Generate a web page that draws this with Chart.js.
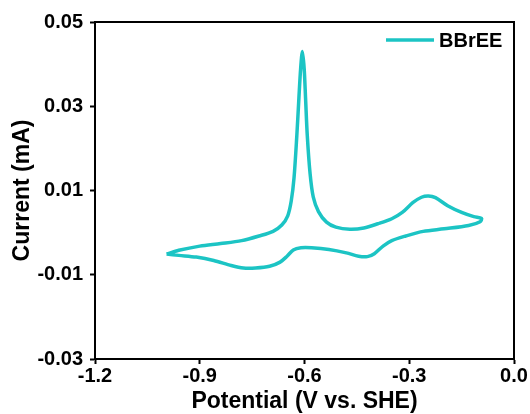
<!DOCTYPE html>
<html>
<head>
<meta charset="utf-8">
<script src="https://cdn.jsdelivr.net/npm/chart.js@4/dist/chart.umd.min.js"></script>
<style>
  html, body { margin: 0; padding: 0; background: #fff; }
  #wrap { width: 530px; height: 414px; }
</style>
</head>
<body>
<div id="wrap"><canvas id="myChart"></canvas></div>
<script>
// CV loop (upper branch left->right, then lower branch back)
var potential = [
  -0.995, -0.96, -0.90, -0.84, -0.78, -0.73, -0.69, -0.665, -0.648, -0.638,
  -0.630, -0.622, -0.616, -0.611, -0.606, -0.601, -0.597, -0.592, -0.584, -0.575,
  -0.560, -0.537, -0.51, -0.47, -0.43, -0.39, -0.35, -0.32, -0.29, -0.265,
  -0.245, -0.225, -0.19, -0.15, -0.115, -0.093,
  -0.097, -0.13, -0.20, -0.26, -0.31, -0.35, -0.375, -0.40, -0.42, -0.445,
  -0.48, -0.53, -0.58, -0.61, -0.632, -0.650, -0.670, -0.70, -0.74, -0.775,
  -0.81, -0.86, -0.91, -0.96, -0.995
];
var current = [
  -0.0051, -0.0042, -0.0032, -0.0026, -0.0019, -0.0008, 0.0003, 0.0018, 0.0040, 0.0075,
  0.0130, 0.0230, 0.0320, 0.0390, 0.0430, 0.0390, 0.0320, 0.0230, 0.0140, 0.0085,
  0.0050, 0.0025, 0.0013, 0.0008, 0.0011, 0.0021, 0.0033, 0.0048, 0.0071, 0.0084,
  0.0087, 0.0083, 0.0064, 0.0048, 0.0038, 0.0034,
  0.0026, 0.0017, 0.0009, 0.0003, -0.0008, -0.0019, -0.0032, -0.0050, -0.0057, -0.0056,
  -0.0048, -0.0040, -0.0036, -0.0036, -0.0041, -0.0056, -0.0070, -0.0080, -0.0084, -0.0084,
  -0.0078, -0.0066, -0.0058, -0.0054, -0.0051
];
var seriesLabel = 'BBrEE';
var xTicks = [-1.2, -0.9, -0.6, -0.3, 0.0];
var yTicks = [-0.03, -0.01, 0.01, 0.03, 0.05];

var lineColor = '#1cc4c4';
var font = 'Liberation Sans, Arial, sans-serif';

var points = potential.map(function(x, i) { return { x: x, y: current[i] }; });

// frame on all four sides + legend inside top-right
var framePlugin = {
  id: 'frame',
  afterDraw: function(chart) {
    var ctx = chart.ctx;
    var a = chart.chartArea;
    ctx.save();
    ctx.strokeStyle = '#000';
    ctx.lineWidth = 2;
    ctx.strokeRect(a.left, a.top, a.right - a.left, a.bottom - a.top);

    var ds = chart.data.datasets[0];
    ctx.strokeStyle = ds.borderColor;
    ctx.lineWidth = 3.5;
    ctx.beginPath();
    ctx.moveTo(386, 40);
    ctx.lineTo(434, 40);
    ctx.stroke();
    ctx.fillStyle = '#000';
    ctx.font = 'bold 20px ' + font;
    ctx.textBaseline = 'middle';
    ctx.fillText(ds.label, 439, 41);
    ctx.restore();
  }
};

var ctx = document.getElementById('myChart').getContext('2d');
var chart = new Chart(ctx, {
  type: 'scatter',
  data: {
    datasets: [{
      label: seriesLabel,
      data: points,
      showLine: true,
      borderColor: lineColor,
      borderWidth: 3.5,
      pointRadius: 0,
      tension: 0.3,
      fill: false
    }]
  },
  options: {
    responsive: true,
    maintainAspectRatio: false,
    animation: false,
    layout: { padding: { left: 0, right: 16, top: 22, bottom: 0 } },
    scales: {
      x: {
        type: 'linear',
        min: -1.2,
        max: 0,
        afterBuildTicks: function(scale) {
          scale.ticks = xTicks.map(function(v) { return { value: v }; });
        },
        afterFit: function(scale) { scale.height = 55; },
        grid: {
          drawOnChartArea: false,
          drawTicks: true,
          tickLength: 5,
          tickWidth: 2,
          tickColor: '#000'
        },
        border: { display: true, color: '#000', width: 2 },
        ticks: {
          color: '#000',
          padding: 0,
          maxRotation: 0,
          font: { family: font, size: 20, weight: 'bold' },
          callback: function(v) { return v.toFixed(1); }
        },
        title: {
          display: true,
          text: 'Potential (V vs. SHE)',
          color: '#000',
          padding: { top: 0, bottom: -1 },
          font: { family: font, size: 23, weight: 'bold' }
        }
      },
      y: {
        type: 'linear',
        min: -0.03,
        max: 0.05,
        afterBuildTicks: function(scale) {
          scale.ticks = yTicks.map(function(v) { return { value: v }; });
        },
        afterFit: function(scale) { scale.width = 95; },
        grid: {
          drawOnChartArea: false,
          drawTicks: true,
          tickLength: 5,
          tickWidth: 2,
          tickColor: '#000'
        },
        border: { display: true, color: '#000', width: 2 },
        ticks: {
          color: '#000',
          padding: 7,
          font: { family: font, size: 20, weight: 'bold' },
          callback: function(v) { return v.toFixed(2); }
        },
        title: {
          display: true,
          text: 'Current (mA)',
          color: '#000',
          padding: { top: 9, bottom: 0 },
          font: { family: font, size: 23, weight: 'bold' }
        }
      }
    },
    plugins: {
      legend: { display: false },
      tooltip: { enabled: false }
    }
  },
  plugins: [framePlugin]
});
</script>
</body>
</html>
